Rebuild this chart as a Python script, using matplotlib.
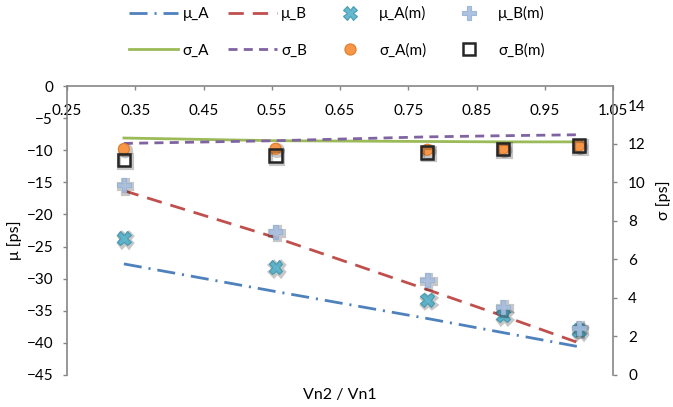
import numpy as np
import matplotlib
matplotlib.use("Agg")
import matplotlib.pyplot as plt
import matplotlib.patheffects as pe

plt.rcParams['font.family'] = ['Lato', 'DejaVu Sans']
plt.rcParams['lines.scale_dashes'] = False

# ratio Vn2 / Vn1
ratio = [1/3, 5/9, 7/9, 8/9, 1.0]

# model curves
mu_A = [-27.7, -32.0, -36.2, -38.4, -40.6]
mu_B = [-16.3, -23.6, -31.7, -35.8, -40.0]
sigma_A = [12.30, 12.16, 12.12, 12.1, 12.1]
sigma_B = [12.02, 12.16, 12.36, 12.42, 12.47]

# measured points
mu_A_m = [-23.7, -28.2, -33.3, -35.7, -38.0]
mu_B_m = [-15.4, -22.7, -30.2, -34.4, -37.7]
sigma_A_m = [11.73, 11.74, 11.69, 11.74, 11.9]
sigma_B_m = [11.16, 11.38, 11.55, 11.73, 11.9]

x_ticks = [0.25, 0.35, 0.45, 0.55, 0.65, 0.75, 0.85, 0.95, 1.05]
mu_ticks = [0, -5, -10, -15, -20, -25, -30, -35, -40, -45]
sigma_ticks = [0, 2, 4, 6, 8, 10, 12, 14]

AXIS_GRAY = '#868686'


def shadow():
    return [pe.SimpleLineShadow(offset=(1.2, -1.2), shadow_color='k', alpha=0.22, linewidth=3),
            pe.Normal()]


def main():
    fig = plt.figure(figsize=(6.73, 4.07), dpi=100)
    ax = fig.add_axes([67/673, 1 - 375/407, (613-67)/673, (375-86)/407])
    ax2 = ax.twinx()

    # left axis (mu)
    ax.set_xlim(0.25, 1.05)
    ax.set_ylim(-45, 0)
    ax.set_yticks(mu_ticks)
    ax.set_xticks(x_ticks)
    ax.set_xticklabels(['%.2f' % v for v in x_ticks])

    # category axis crosses at mu = 0 (top)
    ax.spines['bottom'].set_position(('data', 0))
    ax.spines['top'].set_visible(False)
    ax.spines['right'].set_visible(False)
    for s in ['bottom', 'left']:
        ax.spines[s].set_color(AXIS_GRAY)
        ax.spines[s].set_linewidth(1.2)
    ax.tick_params(axis='x', direction='out', length=3, width=1, color=AXIS_GRAY,
                   pad=10, labelsize=11, labelcolor='black')
    ax.tick_params(axis='y', direction='out', length=3, width=1, color=AXIS_GRAY,
                   pad=7, labelsize=11)
    ax.set_ylabel('μ [ps]', fontsize=11.5)
    ax.yaxis.set_label_coords(-0.082, 0.467)
    ax.set_xlabel('Vn2 / Vn1', fontsize=11.5)
    ax.xaxis.set_label_coords(0.5, -0.045)

    # right axis (sigma)
    ax2.set_ylim(0, 15)
    ax2.set_yticks(sigma_ticks)
    for s in ['top', 'bottom', 'left']:
        ax2.spines[s].set_visible(False)
    ax2.spines['right'].set_color(AXIS_GRAY)
    ax2.spines['right'].set_linewidth(1.2)
    ax2.tick_params(axis='y', direction='out', length=3, width=1, color=AXIS_GRAY,
                    pad=8, labelsize=11)
    ax2.set_ylabel('σ [ps]', fontsize=11.5)
    ax2.yaxis.set_label_coords(1.079, 0.606)

    h = []
    h += ax.plot(ratio, mu_A, color='#4F81BD', lw=2, dashes=(13, 5, 1.5, 5), label='μ_A')
    h += ax2.plot(ratio, sigma_A, color='#9BBB59', lw=2, label='σ_A')
    h += ax.plot(ratio, mu_B, color='#C0504D', lw=2, dashes=(11, 6.5), label='μ_B')
    h += ax2.plot(ratio, sigma_B, color='#8064A2', lw=2, dashes=(6.5, 4.5), label='σ_B')

    h += ax.plot(ratio, mu_A_m, ls='none', marker='X', ms=10, mfc='#4BACC6', mec='#3C93AB',
                 mew=0.8, alpha=0.85, label='μ_A(m)', path_effects=shadow())
    h += ax2.plot(ratio, sigma_A_m, ls='none', marker='o', ms=8, mfc='#F79646', mec='#E07B2A',
                  mew=0.8, label='σ_A(m)', path_effects=shadow())
    h += ax.plot(ratio, mu_B_m, ls='none', marker='P', ms=10, mfc='#A7BDDE', mec='#95B3D7',
                 mew=0.8, alpha=0.9, label='μ_B(m)', path_effects=shadow())
    h += ax2.plot(ratio, sigma_B_m, ls='none', marker='s', ms=9, mfc='none', mec='#262626',
                  mew=1.8, label='σ_B(m)', path_effects=shadow())

    leg = fig.legend(handles=h, loc='center', bbox_to_anchor=(337/673, 1 - 32/407), ncol=4,
                     frameon=False, fontsize=11, handlelength=3.2, handletextpad=0.3,
                     columnspacing=1.2, labelspacing=1.45)
    for lh in leg.legend_handles:
        lh.set_path_effects([])

    fig.savefig('out.png', dpi=100)


if __name__ == "__main__":
    main()
